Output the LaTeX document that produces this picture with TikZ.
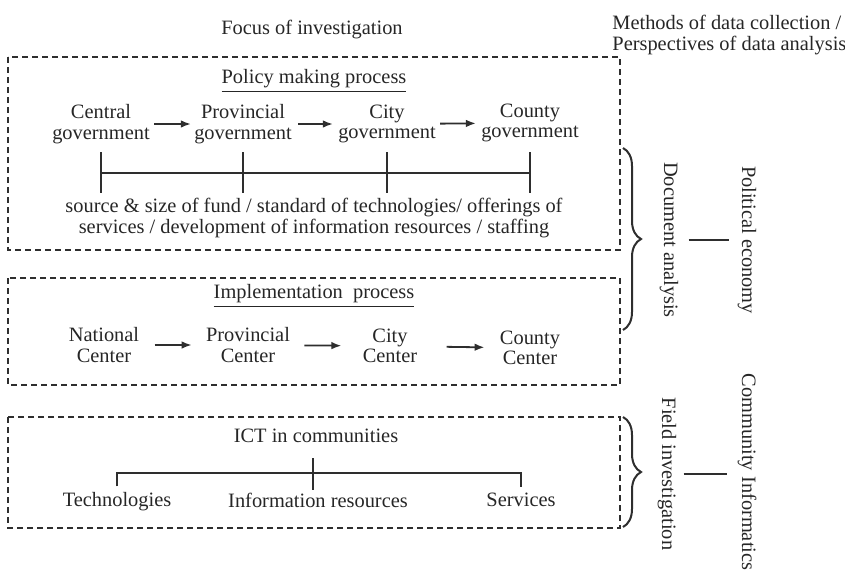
\documentclass[tikz,border=0pt]{standalone}
\usepackage{fontspec}
\setmainfont{Liberation Serif}
\usetikzlibrary{arrows.meta,decorations.pathreplacing}

\begin{document}
\begin{tikzpicture}[x = 0.5pt,y = -0.5pt]
		\tikzset{> = {Latex[length = 5pt,width = 3.8pt]}}
		\tikzset{lbl/.style = {font = \fontsize{10.2}{10.2}\selectfont,align = center,inner sep = 1pt,text = black!85}}
		\tikzset{dbox/.style = {dash pattern = on 3pt off 2pt,line width = 0.85pt,black!82}}
		\tikzset{flow/.style = {->,line width = 0.9pt,black!82}}
		\tikzset{brc/.style = {decorate,decoration = {brace,amplitude = 9pt},line width = 1pt,black!82}}
		\tikzset{tie/.style = {line width = 0.9pt,black!82}}
		\useasboundingbox (0,0) rectangle (845,569);
		\node[lbl] (FOC) at (312,30){Focus of investigation};
		\node[lbl,align = left,anchor = west] (MET) at (610,35){Methods of data collection /\\Perspectives of data analysis};
		\draw [dbox] (8,57) rectangle (620,250);
		\node[lbl] (PMP) at (314,81){\underline{Policy making process}};
		\node[lbl] (CG) at (101,124){Central\\government};
		\node[lbl] (PG) at (243,124){Provincial\\government};
		\node[lbl] (CYG) at (387,124){City\\government};
		\node[lbl] (COG) at (530,123){County\\government};
		\draw [flow,shorten <= 1pt,shorten >= 0.5pt] (CG) -- (PG);
		\draw [flow,shorten <= 2pt,shorten >= 1.5pt] (PG) -- (CYG);
		\draw [flow,shorten <= 1pt,shorten >= 1.5pt] (CYG) -- (COG);
		\coordinate (BT) at (0,152);
		\coordinate (BM) at (0,173);
		\coordinate (BB) at (0,193);
		\foreach \n in {CG,PG,CYG,COG}
			\draw [tie] (\n |- BT) -- (\n |- BB);
		\draw [tie] (CG |- BM) -- (COG |- BM);
		\node[lbl] (SRC) at (314,218){source \& size of fund / standard of technologies/ offerings of\\services / development of information resources / staffing};
		\draw [dbox] (8,278) rectangle (620,385);
		\node[lbl] (IMP) at (314,296){\underline{Implementation~~process}};
		\node[lbl] (NC) at (104,345){National\\Center};
		\node[lbl] (PC) at (248,345){Provincial\\Center};
		\node[lbl] (CC) at (390,346){City\\Center};
		\node[lbl] (COC) at (530,348){County\\Center};
		\draw [flow,shorten <= 6.5pt,shorten >= 6pt] (NC) -- (PC);
		\draw [flow,shorten <= 6pt,shorten >= 9.5pt] (PC) -- (CC);
		\draw [flow,shorten <= 13.5pt,shorten >= 6.5pt] (CC) -- (COC);
		\draw [dbox] (8,417) rectangle (620,528);
		\node[lbl] (ICT) at (316,436){ICT in communities};
		\node[lbl] (TEC) at (117,502){Technologies};
		\node[lbl] (INF) at (318,500){Information resources};
		\node[lbl] (SER) at (521,500){Services};
		\coordinate (TR) at (313,473);
		\draw [tie] (TR |- ICT.south) ++(0,13) -- (TR |- INF.north);
		\draw [tie] ([yshift = 2pt]TEC.north) |- (TR) -| ([yshift = 2pt]SER.north);
		\draw [brc] (623,148) -- (623,330);
		\draw [brc] (623,417) -- (623,527);
		\node[lbl,rotate = -90] (DOC) at (669,240){Document analysis};
		\node[lbl,rotate = -90] (POL) at (747,240){Political economy};
		\draw [tie,shorten <= 4pt,shorten >= 3pt] (DOC.north) -- (POL.south);
		\node[lbl,rotate = -90] (FLD) at (667,474){Field investigation};
		\node[lbl,rotate = -90] (COM) at (747,472){Community Informatics};
		\draw [tie,shorten <= 2.5pt,shorten >= 4pt] (FLD.north) -- (FLD.north -| COM.south);
	\end{tikzpicture}
\end{document}
